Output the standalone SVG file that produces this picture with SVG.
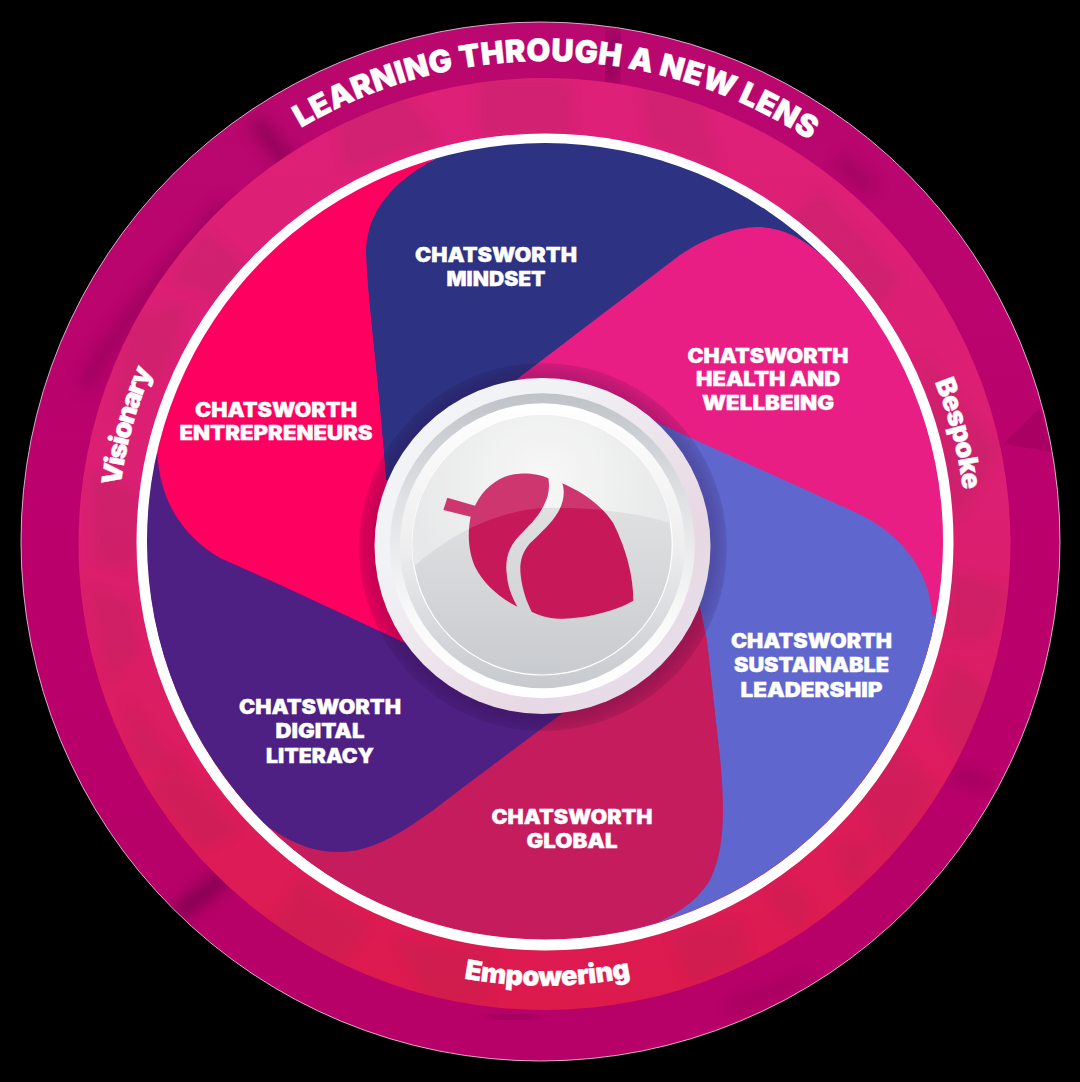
<svg xmlns="http://www.w3.org/2000/svg" xmlns:xlink="http://www.w3.org/1999/xlink" width="1080" height="1082" viewBox="0 0 1080 1082">
<style>
.lb{font-family:Inter,"Liberation Sans",sans-serif;font-weight:900;font-size:19.5px;fill:#fff;stroke:#fff;stroke-width:.35px;text-anchor:middle}
.rg{font-family:Inter,"Liberation Sans",sans-serif;font-weight:900;font-size:27px;fill:#fff;stroke:#fff;stroke-width:.4px}
.cr{fill:none;stroke:#6e0048;filter:url(#b6)}
.pt{fill:#8f2a50;opacity:.15;filter:url(#b3)}
</style>
<defs>
<clipPath id="disc"><circle cx="545" cy="541" r="398"/></clipPath>
<clipPath id="outerClip"><circle cx="540.5" cy="541.5" r="519"/></clipPath>
<clipPath id="midClip"><circle cx="544.5" cy="544" r="466"/></clipPath>
<clipPath id="faceClip"><circle cx="542.3" cy="545" r="130"/></clipPath>
<filter id="b6" x="-80%" y="-80%" width="260%" height="260%"><feGaussianBlur stdDeviation="8"/></filter>
<filter id="b3" x="-30%" y="-30%" width="160%" height="160%"><feGaussianBlur stdDeviation="6"/></filter>
<linearGradient id="gOuter" x1="0" y1="0" x2="0" y2="1"><stop offset="0" stop-color="#b9086f"/><stop offset=".5" stop-color="#bb006c"/><stop offset="1" stop-color="#b70068"/></linearGradient>
<linearGradient id="gMid" x1="0" y1="0" x2="0" y2="1"><stop offset="0" stop-color="#de2078"/><stop offset=".45" stop-color="#db1f72"/><stop offset="1" stop-color="#dd1a4c"/></linearGradient>
<linearGradient id="gRim" x1="0" y1="0" x2="1" y2="1"><stop offset="0" stop-color="#f5f5f7"/><stop offset=".3" stop-color="#f1f2f6"/><stop offset=".7" stop-color="#e8d8e3"/><stop offset="1" stop-color="#e4e3ee"/></linearGradient>
<linearGradient id="gA" x1="0" y1="0" x2="0" y2="1"><stop offset="0" stop-color="#bfc3c8"/><stop offset=".35" stop-color="#dfe1e4"/><stop offset=".75" stop-color="#fafafa"/><stop offset="1" stop-color="#ffffff"/></linearGradient>
<linearGradient id="gB" x1="0" y1="0" x2="0" y2="1"><stop offset="0" stop-color="#ffffff"/><stop offset=".5" stop-color="#eeeeef"/><stop offset="1" stop-color="#c6c9cd"/></linearGradient>
<linearGradient id="gFace" gradientUnits="userSpaceOnUse" x1="0" y1="510" x2="0" y2="675"><stop offset="0" stop-color="#e0e0e1"/><stop offset="1" stop-color="#c8cbcf"/></linearGradient>
<radialGradient id="gTop" gradientUnits="userSpaceOnUse" cx="545" cy="480" r="135"><stop offset="0" stop-color="#f7f7f7"/><stop offset="1" stop-color="#e4e5e6"/></radialGradient>
<radialGradient id="gShadow" gradientUnits="userSpaceOnUse" cx="543" cy="547" r="184"><stop offset="0" stop-color="#200030" stop-opacity=".3"/><stop offset=".93" stop-color="#200030" stop-opacity=".24"/><stop offset="1" stop-color="#200030" stop-opacity=".12"/></radialGradient>
<path id="gloss" d="M405 575C450 530 510 505 560 508C600 508 640 513 680 526L680 400L405 400Z"/>
</defs>

<rect width="1080" height="1082" fill="#000"/>

<g id="ring">
<circle cx="540.500" cy="541.500" r="519.500" fill="url(#gOuter)" stroke="#f4d8e8" stroke-width=".8"/>
<g clip-path="url(#outerClip)">
<path class="cr" d="M616 30L610 84" stroke-width="12" opacity=".7"/>
<path class="cr" d="M255 120L290 165" stroke-width="16" opacity=".55"/>
<path class="cr" d="M228 205C170 270 120 320 84 388" stroke-width="14" opacity=".4"/>
<path class="cr" d="M175 916L225 876" stroke-width="16" opacity=".8"/>
<path class="cr" d="M730 1006C760 998 785 988 806 978" stroke-width="8" opacity=".35"/>
<path class="cr" d="M490 1016L535 1018" stroke-width="10" opacity=".5"/>
<path class="cr" d="M950 772L992 786" stroke-width="12" opacity=".35"/>
<path class="cr" d="M840 160L872 190" stroke-width="14" opacity=".35"/>
<path d="M1003 444L1040 408L1052 452Z" fill="#aa0063"/>
</g>
<circle cx="544.500" cy="544" r="466" fill="url(#gMid)"/>
<g clip-path="url(#midClip)">
<path class="pt" d="M330 90L400 90L440 140L345 170Z"/>
<path class="pt" d="M480 80L570 80L575 135L480 135Z"/>
<path class="pt" d="M640 85L700 95L720 170L650 140Z"/>
<path class="pt" d="M820 190L900 280L860 330L790 220Z"/>
<path class="pt" d="M920 350L1000 450L960 520L935 480Z"/>
<path class="pt" d="M950 570L1010 590L990 640L950 640Z"/>
<path class="pt" d="M950 660L1000 700L975 780L935 720Z"/>
<path class="pt" d="M890 740L935 790L890 860L860 800Z"/>
<path class="pt" d="M835 845L880 840L860 880L850 890Z"/>
<path class="pt" d="M780 880L810 900L800 930L770 900Z"/>
<path class="pt" d="M670 935L740 920L750 960L690 985Z"/>
<path class="pt" d="M395 940L490 950L490 1005L430 1000Z"/>
<path class="pt" d="M300 880L370 925L330 975L270 930Z"/>
<path class="pt" d="M175 760L240 830L200 850L150 790Z"/>
<path class="pt" d="M125 695L165 750L185 760L140 770Z"/>
<path class="pt" d="M90 590L130 600L140 650L110 680Z"/>
<path class="pt" d="M90 470L150 500L130 570L95 560Z"/>
<path class="pt" d="M130 320L190 300L165 370L110 420Z"/>
<path class="pt" d="M205 230L250 270L230 300L170 280Z"/>
</g>
<circle cx="545" cy="542" r="403" fill="none" stroke="#fff" stroke-width="11"/>
</g>

<g id="blades" clip-path="url(#disc)">
<g id="mindset">
<path fill="#2d3282" d="M435 159C395 180 367 210 366 250C366 290 378 370 386 480L545 541L700 400L900 300L900 100L435 100Z"/>
<text class="lb" x="496" y="262" textLength="162" lengthAdjust="spacingAndGlyphs">CHATSWORTH</text>
<text class="lb" x="496" y="286" textLength="99" lengthAdjust="spacingAndGlyphs">MINDSET</text>
</g>
<g id="health">
<path fill="#e91e85" d="M500 392L680 255C705 238 735 227 757 227C785 227 805 240 830 262L1000 200L1000 700L700 600L545 541Z"/>
<text class="lb" x="768" y="363" textLength="161" lengthAdjust="spacingAndGlyphs">CHATSWORTH</text>
<text class="lb" x="768" y="386" textLength="144" lengthAdjust="spacingAndGlyphs">HEALTH AND</text>
<text class="lb" x="768" y="410" textLength="132" lengthAdjust="spacingAndGlyphs">WELLBEING</text>
</g>
<g id="sustainable">
<path fill="#5f67ce" d="M620 405L680 433L857 513C900 533 930 570 932 615L1000 640L1000 1000L600 1000L545 541Z"/>
<text class="lb" x="811.500" y="648" textLength="161" lengthAdjust="spacingAndGlyphs">CHATSWORTH</text>
<text class="lb" x="811.500" y="672" textLength="155" lengthAdjust="spacingAndGlyphs">SUSTAINABLE</text>
<text class="lb" x="811.500" y="697" textLength="142" lengthAdjust="spacingAndGlyphs">LEADERSHIP</text>
</g>
<g id="global">
<path fill="#c41c5c" d="M690 560L707 640L720 757C725 810 725 850 710 880C695 905 670 918 640 930L640 1000L200 1000L200 800L545 541Z"/>
<text class="lb" x="572" y="824" textLength="161" lengthAdjust="spacingAndGlyphs">CHATSWORTH</text>
<text class="lb" x="572" y="848" textLength="91" lengthAdjust="spacingAndGlyphs">GLOBAL</text>
</g>
<g id="digital">
<path fill="#4e2083" d="M580 700L473 780C430 812 385 852 340 852C315 852 295 845 270 828L100 800L100 440L545 541Z"/>
<text class="lb" x="320" y="714" textLength="162" lengthAdjust="spacingAndGlyphs">CHATSWORTH</text>
<text class="lb" x="320" y="738" textLength="89" lengthAdjust="spacingAndGlyphs">DIGITAL</text>
<text class="lb" x="320" y="763" textLength="108" lengthAdjust="spacingAndGlyphs">LITERACY</text>
</g>
<g id="entrepreneurs">
<path fill="#fd0060" d="M420 650L287 588L220 558C190 540 160 510 157 450L100 440L100 100L435 100L435 159C395 180 367 210 366 250C366 290 378 370 386 480L545 541Z"/>
<text class="lb" x="276" y="417" textLength="162" lengthAdjust="spacingAndGlyphs">CHATSWORTH</text>
<text class="lb" x="276" y="440" textLength="193" lengthAdjust="spacingAndGlyphs">ENTREPRENEURS</text>
</g>
</g>

<g id="ring-labels">
<path id="arcTop" fill="none" d="M301 128A480 480 0 0 1 913 232.500"/>
<path id="arcRight" fill="none" d="M934.800 382A421 421 0 0 1 909.600 751.500"/>
<path id="arcLeft" fill="none" d="M120.600 486A428 428 0 0 1 331 170"/>
<path id="arcBottom" fill="none" d="M464 978.500A445 445 0 0 0 767 926"/>
<text id="title" class="rg" style="font-size:31px"><textPath xlink:href="#arcTop" href="#arcTop" textLength="536" lengthAdjust="spacing">LEARNING THROUGH A NEW LENS</textPath></text>
<text id="bespoke" class="rg"><textPath xlink:href="#arcRight" href="#arcRight" textLength="112" lengthAdjust="spacing">Bespoke</textPath></text>
<text id="visionary" class="rg"><textPath xlink:href="#arcLeft" href="#arcLeft" textLength="120" lengthAdjust="spacing">Visionary</textPath></text>
<text id="empowering" class="rg"><textPath xlink:href="#arcBottom" href="#arcBottom" textLength="168" lengthAdjust="spacing">Empowering</textPath></text>
</g>

<g id="hub">
<circle cx="543" cy="547" r="184" fill="url(#gShadow)"/>
<circle cx="542.500" cy="546" r="168" fill="url(#gRim)"/>
<circle cx="542.300" cy="545.700" r="152.500" fill="url(#gA)"/>
<circle cx="542.300" cy="545.800" r="142.500" fill="url(#gB)"/>
<circle cx="542.300" cy="545" r="130" fill="url(#gFace)" stroke="#fff" stroke-width="1.200"/>
<g clip-path="url(#faceClip)"><use href="#gloss" fill="url(#gTop)"/></g>
<g id="leaf" transform="translate(360 360) scale(.33333)" fill="#c7195a">
<path d="M262 413L345 437C375 375 430 342 480 341C515 340 545 345 565 355C570 385 565 410 552 435C535 470 510 495 480 525C445 560 435 600 440 640C443 680 455 710 472 740C420 715 370 670 345 620C325 575 322 520 332 470L250 450Z"/>
<path d="M607 370C615 395 612 425 595 455C575 490 540 520 510 550C485 578 478 610 482 645C487 690 500 725 515 755C560 778 610 780 660 772C725 763 780 745 820 722C820 650 800 570 760 490C725 435 665 395 607 370Z"/>
</g>
<g clip-path="url(#faceClip)"><use href="#gloss" fill="#fff" opacity=".13"/></g>
</g>
</svg>
